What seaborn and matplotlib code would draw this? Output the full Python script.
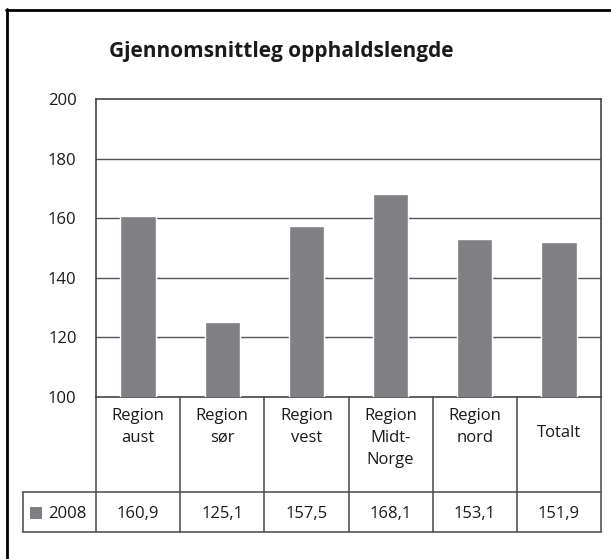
import matplotlib
matplotlib.use("Agg")
import matplotlib.pyplot as plt
import seaborn as sns
import pandas as pd
from matplotlib.lines import Line2D
from matplotlib.patches import Rectangle

categories = ["Region\naust", "Region\nsør", "Region\nvest", "Region\nMidt-\nNorge", "Region\nnord", "Totalt"]
values = [160.9, 125.1, 157.5, 168.1, 153.1, 151.9]
value_labels = ["160,9", "125,1", "157,5", "168,1", "153,1", "151,9"]
series_name = "2008"
yticks = [100, 120, 140, 160, 180, 200]
title = "Gjennomsnittleg opphaldslengde"

sns.set_theme(style="white")
plt.rcParams['font.family'] = ['Open Sans', 'DejaVu Sans']

W, H = 611, 559
fig = plt.figure(figsize=(W / 100, H / 100), dpi=100)
L, R, T, B = 96, 601, 99, 397
ax = fig.add_axes([L / W, 1 - B / H, (R - L) / W, (B - T) / H])

df = pd.DataFrame({"cat": categories, "val": values})
bar_color = "#808084"
sns.barplot(data=df, x="cat", y="val", color=bar_color, width=0.42, ax=ax,
            saturation=1, zorder=3)
ax.set_ylim(100, 200)
ax.set_xlim(-0.5, len(categories) - 0.5)
ax.set_yticks(yticks)
ax.set_yticklabels([str(t) for t in yticks], fontsize=12, color="#1a1a1a")
ax.set_xticks([])
ax.set_xlabel("")
ax.set_ylabel("")
ax.tick_params(axis="y", length=0, pad=14)
for t in yticks[1:-1]:
    ax.axhline(t, color="#555555", lw=1, zorder=1)
for s in ax.spines.values():
    s.set_color("#444444")
    s.set_linewidth(1.2)

# Data table below the axes
px = (B - T)
row1 = -(492 - B) / px
row2 = -(532 - B) / px
xt = ax.get_xaxis_transform()
lc = "#555555"
n = len(categories)
leg_left = -0.5 - (L - 23) / ((R - L) / n)
for i in range(n + 1):
    ax.add_line(Line2D([i - 0.5, i - 0.5], [0, row2], transform=xt, color=lc, lw=1.2, clip_on=False))
ax.add_line(Line2D([leg_left, n - 0.5], [row1, row1], transform=xt, color=lc, lw=1.2, clip_on=False))
ax.add_line(Line2D([leg_left, n - 0.5], [row2, row2], transform=xt, color=lc, lw=1.2, clip_on=False))
ax.add_line(Line2D([leg_left, leg_left], [row1, row2], transform=xt, color=lc, lw=1.2, clip_on=False))

for i, (c, v) in enumerate(zip(categories, value_labels)):
    if "\n" in c:
        ax.text(i, -(408 - B) / px, c, transform=xt, ha="center", va="top",
                fontsize=12, linespacing=1.5, color="#1a1a1a")
    else:
        ax.text(i, -(433 - B) / px, c, transform=xt, ha="center", va="center",
                fontsize=12, color="#1a1a1a")
    ax.text(i, -(514 - B) / px, v, transform=xt, ha="center", va="center",
            fontsize=12, color="#1a1a1a")

# legend key in table
fig.add_artist(Rectangle((30 / W, 1 - 519 / H), 12 / W, 12 / H, transform=fig.transFigure,
                         facecolor=bar_color, edgecolor="none"))
fig.text(48 / W, 1 - 514 / H, series_name, ha="left", va="center", fontsize=12, color="#1a1a1a")

# title
fig.text(281 / W, 1 - 52 / H, title, ha="center", va="center", fontsize=15,
         fontweight="bold", color="#1a1a1a")

# outer frame (left and top visible)
fig.add_artist(Line2D([6.5 / W, 6.5 / W], [0, 1 - 9 / H], transform=fig.transFigure, color="black", lw=2))
fig.add_artist(Line2D([6 / W, 1], [1 - 10 / H, 1 - 10 / H], transform=fig.transFigure, color="black", lw=2))

fig.savefig("out.png", dpi=100)
